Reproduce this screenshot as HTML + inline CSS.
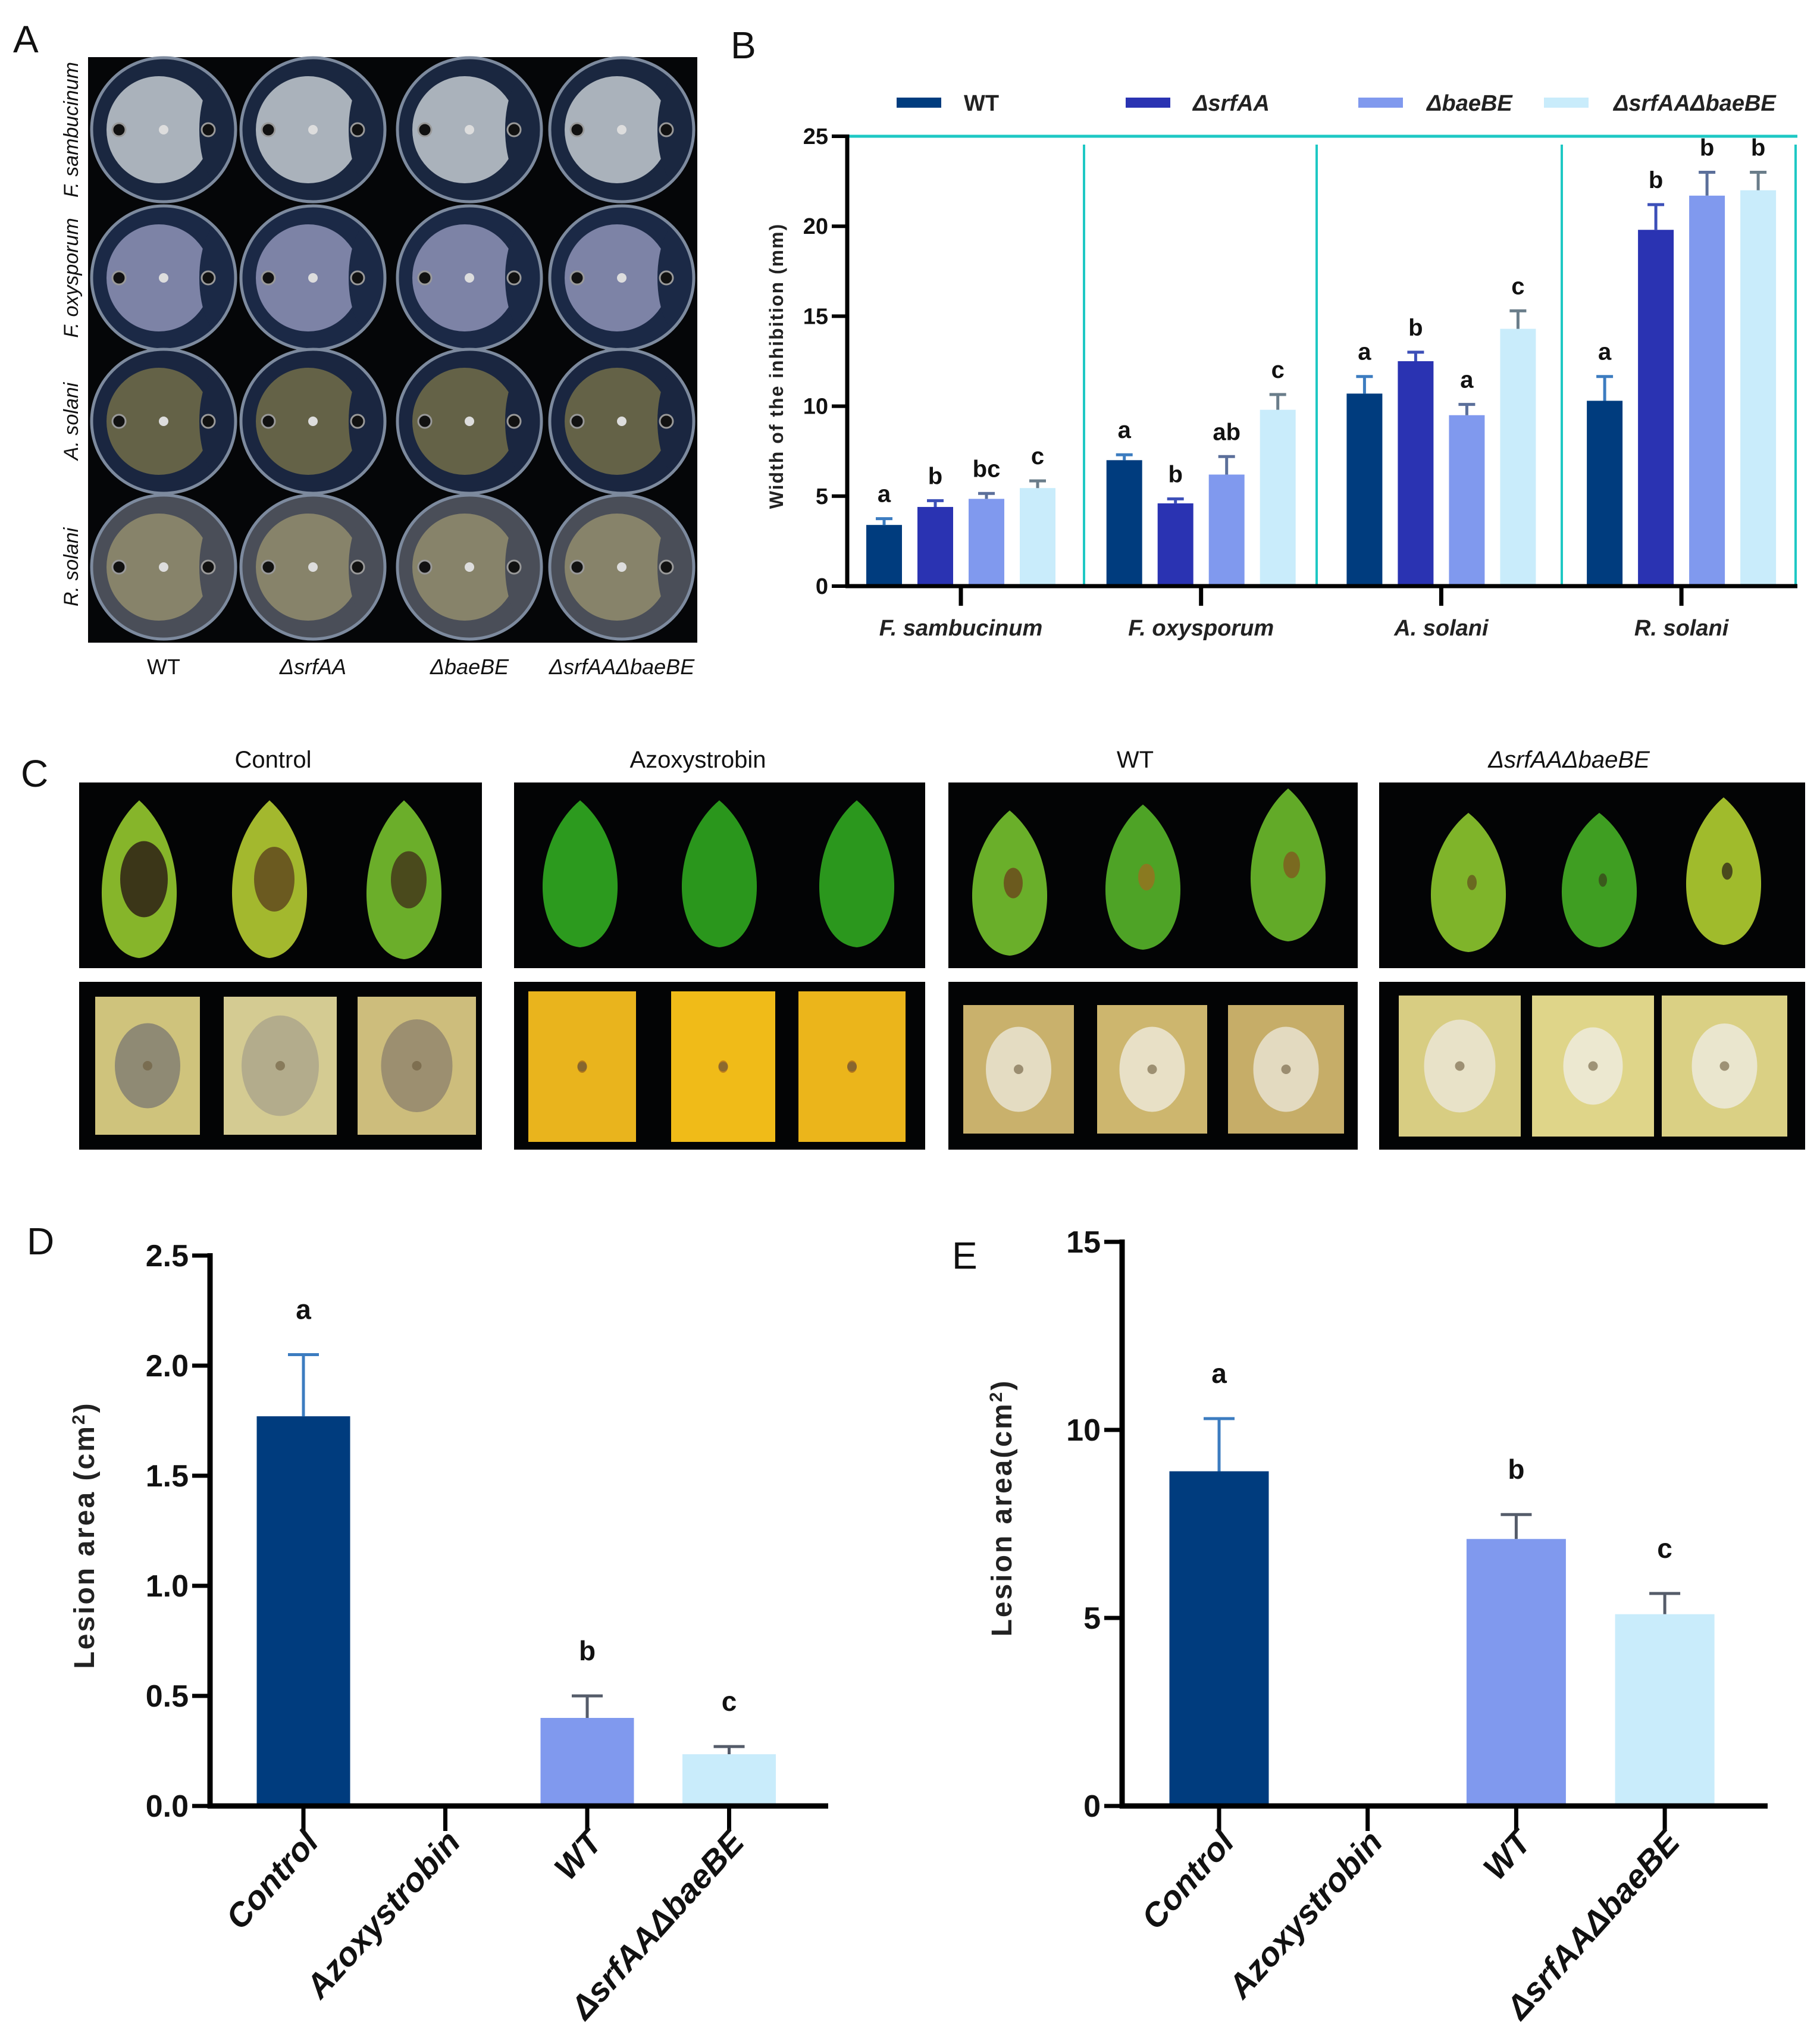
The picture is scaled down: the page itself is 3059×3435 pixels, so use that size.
<!DOCTYPE html>
<html><head><meta charset="utf-8"><title>Figure</title>
<style>html,body{margin:0;padding:0;background:#fff}svg{display:block}text{font-family:"Liberation Sans",sans-serif}</style>
</head><body>
<svg id="fig" xmlns="http://www.w3.org/2000/svg" width="3059" height="3435" viewBox="0 0 3059 3435">
<defs id="defs"></defs>
<rect x="0" y="0" width="3059" height="3435" fill="#fff"/>
<g id="gA"></g>
<g id="gB"></g>
<g id="gC"></g>
<g id="gD"></g>
<g id="gE"></g>
</svg>
<script>
// ---------- Panel B data ----------
const bCategories=["F. sambucinum","F. oxysporum","A. solani","R. solani"];
const bSeriesNames=["WT","ΔsrfAA","ΔbaeBE","ΔsrfAAΔbaeBE"];
const bWT=[3.4,7.0,10.7,10.3];
const bSrfAA=[4.4,4.6,12.5,19.8];
const bBaeBE=[4.85,6.2,9.5,21.7];
const bDouble=[5.45,9.8,14.3,22.0];
const bErrWT=[0.35,0.3,0.95,1.35];
const bErrSrfAA=[0.35,0.25,0.5,1.4];
const bErrBaeBE=[0.3,1.0,0.6,1.3];
const bErrDouble=[0.4,0.85,1.0,1.0];
const bLetWT=["a","a","a","a"];
const bLetSrfAA=["b","b","b","b"];
const bLetBaeBE=["bc","ab","a","b"];
const bLetDouble=["c","c","c","b"];
const bTicks=[0,5,10,15,20,25];
// ---------- Panel D data ----------
const dCategories=["Control","Azoxystrobin","WT","ΔsrfAAΔbaeBE"];
const dValues=[1.77,0,0.40,0.235];
const dErrors=[0.28,0,0.10,0.035];
const dLetters=["a","","b","c"];
const dTicks=["0.0","0.5","1.0","1.5","2.0","2.5"];
// ---------- Panel E data ----------
const eCategories=["Control","Azoxystrobin","WT","ΔsrfAAΔbaeBE"];
const eValues=[8.9,0,7.1,5.1];
const eErrors=[1.4,0,0.65,0.55];
const eLetters=["a","","b","c"];
const eTicks=[0,5,10,15];

const NS="http://www.w3.org/2000/svg";
function mk(parent,tag,attrs,txt){const e=document.createElementNS(NS,tag);for(const k in attrs)e.setAttribute(k,attrs[k]);if(txt!==undefined)e.textContent=txt;parent.appendChild(e);return e;}
const colors=["#003c7e","#2a33b2","#8099ee","#c9ecfb"];
const errColors=["#3c7cc0","#3c4fb8","#5b6f9a","#6a7d8a"];

const fig=document.getElementById('fig');
const defs=document.getElementById('defs');
[["A",22,88],["B",1228,98],["C",35,1322],["D",45,2108],["E",1600,2132]].forEach(p=>{
  const t=mk(fig,'text',{x:p[1],y:p[2],'font-size':64,fill:'#111'},p[0]);
  
  
});

// ---------- Panel A ----------
(function(){
  const g=document.getElementById('gA');
  const bg=mk(g,'rect',{x:148,y:96,width:1024,height:984,fill:'#050608'});
  
  
  const cols=[275,526,789,1045], rows=[218,467,708,953];
  const plateBg=['#1a2740','#1b2946','#1a2640','#4a4e58'];
  const colony=['#aab2bb','#7d83a6','#646247','#87836a'];
  const rowNames=['F. sambucinum','F. oxysporum','A. solani','R. solani'];
  const colNames=['WT','ΔsrfAA','ΔbaeBE','ΔsrfAAΔbaeBE'];
  rows.forEach((cy,r)=>{
    cols.forEach((cx,c)=>{
      const id='pc'+r+'_'+c;
      const cp=mk(defs,'clipPath',{id:id});
      mk(cp,'circle',{cx:cx,cy:cy,r:118});
      const pg=mk(g,'g',{});
      
      
      mk(pg,'circle',{cx:cx,cy:cy,r:121,fill:plateBg[r],stroke:'#7d8a9e','stroke-width':5});
      const inner=mk(pg,'g',{'clip-path':'url(#'+id+')'});
      mk(inner,'ellipse',{cx:cx-8,cy:cy,rx:88,ry:90,fill:colony[r]});
      mk(inner,'ellipse',{cx:cx+105,cy:cy,rx:45,ry:100,fill:plateBg[r]});
      mk(pg,'circle',{cx:cx-75,cy:cy,r:11,fill:'#111',stroke:'#999','stroke-width':3});
      mk(pg,'circle',{cx:cx+75,cy:cy,r:11,fill:'#111',stroke:'#999','stroke-width':3});
      mk(pg,'circle',{cx:cx,cy:cy,r:8,fill:'#ddd'});
    });
    const t=mk(g,'text',{x:0,y:0,'font-size':34,'font-style':'italic','text-anchor':'middle',fill:'#111',transform:'translate(131,'+cy+') rotate(-90)'},rowNames[r]);
    
    
  });
  cols.forEach((cx,c)=>{
    const t=mk(g,'text',{x:cx,y:1133,'font-size':36,'font-style':c?'italic':'normal','text-anchor':'middle',fill:'#111'},colNames[c]);
    
    
  });
})();

// ---------- Panel B ----------
(function(){
  const g=document.getElementById('gB');
  const y0=985, ppu=30.24, axX=1424, right=3021;
  const yB=v=>y0-v*ppu;
  const xB=(c,s)=>1615+c*403.7+(s-1.5)*86;
  const series=[bWT,bSrfAA,bBaeBE,bDouble];
  const errs=[bErrWT,bErrSrfAA,bErrBaeBE,bErrDouble];
  const lets=[bLetWT,bLetSrfAA,bLetBaeBE,bLetDouble];
  const top=mk(g,'line',{x1:axX,y1:yB(25),x2:right,y2:yB(25),stroke:'#1ec8c4','stroke-width':5});
  
  
  [1822,2213,2625,3018].forEach((x,i)=>{
    const l=mk(g,'line',{x1:x,y1:yB(25)+14,x2:x,y2:y0,stroke:'#1ec8c4','stroke-width':4});
    
    
  });
  series.forEach((arr,s)=>{
    arr.forEach((v,c)=>{
      const x=xB(c,s);
      const r=mk(g,'rect',{x:x-30,y:yB(v),width:60,height:y0-yB(v),fill:colors[s]});
      
      
      const e=errs[s][c];
      const el=mk(g,'path',{d:'M'+x+' '+yB(v)+'V'+yB(v+e)+'M'+(x-14)+' '+yB(v+e)+'H'+(x+14),stroke:errColors[s],'stroke-width':5,fill:'none'});
      
      
      const t=mk(g,'text',{x:x,y:yB(v+e)-28,'font-size':40,'font-weight':'bold','text-anchor':'middle',fill:'#111'},lets[s][c]);
      
      
    });
  });
  const ya=mk(g,'line',{x1:axX,y1:yB(25)-3,x2:axX,y2:y0+3,stroke:'#000','stroke-width':7});
  
  
  const xa=mk(g,'line',{x1:axX-3,y1:y0,x2:right,y2:y0,stroke:'#000','stroke-width':7});
  
  
  bTicks.forEach(v=>{
    mk(g,'line',{x1:axX-26,y1:yB(v),x2:axX,y2:yB(v),stroke:'#000','stroke-width':6});
    const t=mk(g,'text',{x:axX-32,y:yB(v)+13,'font-size':38,'font-weight':'bold','text-anchor':'end',fill:'#111'},String(v));
    
    
  });
  bCategories.forEach((c,i)=>{
    const x=1615+i*403.7;
    mk(g,'line',{x1:x,y1:y0,x2:x,y2:y0+33,stroke:'#000','stroke-width':7});
    const t=mk(g,'text',{x:x,y:1068,'font-size':38,'font-weight':'bold','font-style':'italic','text-anchor':'middle',fill:'#222'},c);
    
    
  });
  const yt=mk(g,'text',{x:0,y:0,'font-size':32,'font-weight':'bold','text-anchor':'middle','letter-spacing':2,fill:'#222',transform:'translate(1316,615) rotate(-90)'},'Width of the inhibition  (mm)');
  
  
  const sw=[1507,1892,2283,2595], lx=[1620,2005,2398,2712];
  bSeriesNames.forEach((n,i)=>{
    const r=mk(g,'rect',{x:sw[i],y:164,width:75,height:17,fill:colors[i]});
    
    
    const t=mk(g,'text',{x:lx[i],y:186,'font-size':38,'font-weight':'bold','font-style':i?'italic':'normal',fill:'#222'},n);
    
    
  });
})();

// ---------- Panel C ----------
(function(){
  const g=document.getElementById('gC');
  const heads=[["Control",459,false],["Azoxystrobin",1173,false],["WT",1908,false],["ΔsrfAAΔbaeBE",2637,true]];
  heads.forEach((h,i)=>{
    const t=mk(g,'text',{x:h[1],y:1290,'font-size':40,'font-style':h[2]?'italic':'normal','text-anchor':'middle',fill:'#111'},h[0]);
    
    
  });
  const boxes=[[133,810],[864,1555],[1594,2282],[2318,3034]];
  boxes.forEach((b,i)=>{
    const r1=mk(g,'rect',{x:b[0],y:1315,width:b[1]-b[0],height:312,fill:'#030405'});
    
    
    const r2=mk(g,'rect',{x:b[0],y:1650,width:b[1]-b[0],height:282,fill:'#030405'});
    
    
  });
  const leaves=[
    [234,1345,1610,'#86b52a','#3b3618',40],[453,1345,1610,'#a3b82e','#6b5a20',34],[679,1345,1612,'#6bae2a','#4a4a1c',30],
    [975,1345,1592,'#2c9a1e',null,0],[1209,1345,1592,'#2a961c',null,0],[1440,1345,1592,'#2b971d',null,0],
    [1697,1362,1606,'#6aaf2a','#6b5a1e',16],[1921,1352,1596,'#4ea326','#8a7a20',14],[2165,1325,1582,'#62aa28','#7a6a20',14],
    [2468,1366,1600,'#7fb42a','#6a6a20',8],[2688,1366,1592,'#3f9e22','#3a5a1c',7],[2897,1340,1588,'#a0bb2c','#4a4a1c',9]];
  leaves.forEach((l,i)=>{
    const cx=l[0],t=l[1],b=l[2],w=80,h=b-t;
    const p=mk(g,'path',{d:'M'+cx+' '+t+'C'+(cx+w*1.1)+' '+(t+h*0.3)+','+(cx+w*1.0)+' '+(b-h*0.03)+','+cx+' '+b+'C'+(cx-w*1.0)+' '+(b-h*0.03)+','+(cx-w*1.1)+' '+(t+h*0.3)+','+cx+' '+t+'Z',fill:l[3]});
    
    
    if(l[4]){mk(g,'ellipse',{cx:cx+(i<3?8:6),cy:t+h*0.5,rx:l[5],ry:l[5]*1.6,fill:l[4]});}
  });
  const tubers=[
    [160,336,1675,1907,'#cfc37c','#8f8a74',55],[376,566,1675,1907,'#d4cb92','#b3ac8c',65],[601,800,1675,1907,'#cdbd7c','#9c8f70',60],
    [888,1069,1666,1919,'#e9b41d','#b0781c',8],[1128,1303,1666,1919,'#f0bb18','#c0801c',8],[1342,1522,1666,1919,'#ebb51b','#b5781c',8],
    [1619,1805,1689,1905,'#c9b16c','#e4dcc2',55],[1844,2029,1689,1905,'#cdb66e','#e8e0c6',55],[2064,2259,1689,1905,'#c6ad68','#e3dac0',55],
    [2351,2556,1673,1910,'#d8cd82','#e8e2c8',60],[2575,2780,1673,1910,'#dfd589','#ece8d0',50],[2793,3004,1673,1910,'#dad084','#eae6ce',55]];
  tubers.forEach((t,i)=>{
    const r=mk(g,'rect',{x:t[0],y:t[2],width:t[1]-t[0],height:t[3]-t[2],fill:t[4]});
    
    
    const cx=(t[0]+t[1])/2, cy=(t[2]+t[3])/2;
    mk(g,'ellipse',{cx:cx,cy:cy,rx:t[6],ry:t[6]*1.3,fill:t[5]});
    mk(g,'circle',{cx:cx,cy:cy,r:8,fill:'#6a5a3a','fill-opacity':0.6});
  });
})();

// ---------- Bar chart helper for D and E ----------
function lesionChart(g,cats,vals,errs,letters,ticks,tickVals,ppu,axX,right,x0,dx,barW,title,titleX,titleY,barCols){
  const y0=3035;
  const yS=v=>y0-v*ppu;
  const xS=i=>x0+i*dx;
  vals.forEach((v,i)=>{
    if(v>0){
      const r=mk(g,'rect',{x:xS(i)-barW/2,y:yS(v),width:barW,height:y0-yS(v),fill:barCols[i]});
      
      
      const e=errs[i];
      const el=mk(g,'path',{d:'M'+xS(i)+' '+yS(v)+'V'+yS(v+e)+'M'+(xS(i)-26)+' '+yS(v+e)+'H'+(xS(i)+26),stroke:i===0?'#3c7cc0':'#555c6a','stroke-width':5,fill:'none'});
      
      
    }
    if(letters[i]){
      const t=mk(g,'text',{x:xS(i),y:yS(vals[i]+errs[i])-60,'font-size':46,'font-weight':'bold','text-anchor':'middle',fill:'#111'},letters[i]);
      
      
    }
  });
  const topV=tickVals[tickVals.length-1];
  const ya=mk(g,'line',{x1:axX,y1:yS(topV)-4,x2:axX,y2:y0+4,stroke:'#000','stroke-width':9});
  
  
  const xa=mk(g,'line',{x1:axX-4,y1:y0,x2:right,y2:y0,stroke:'#000','stroke-width':9});
  
  
  ticks.forEach((lab,k)=>{
    const v=tickVals[k];
    mk(g,'line',{x1:axX-30,y1:yS(v),x2:axX,y2:yS(v),stroke:'#000','stroke-width':7});
    const t=mk(g,'text',{x:axX-36,y:yS(v)+18,'font-size':52,'font-weight':'bold','text-anchor':'end',fill:'#111'},lab);
    
    
  });
  cats.forEach((c,i)=>{
    mk(g,'line',{x1:xS(i),y1:y0,x2:xS(i),y2:y0+42,stroke:'#000','stroke-width':7});
    const t=mk(g,'text',{x:0,y:0,'font-size':56,'font-weight':'bold','font-style':'italic','text-anchor':'end',fill:'#111',transform:'translate('+(xS(i)+28)+',3098) rotate(-48)'},c);
    
    
  });
  const yt=mk(g,'text',{x:0,y:0,'font-size':48,'font-weight':'bold','text-anchor':'middle','letter-spacing':3,fill:'#222',transform:'translate('+titleX+','+titleY+') rotate(-90)'});
  
  
  mk(yt,'tspan',{},title);
  mk(yt,'tspan',{'baseline-shift':'super','font-size':30},'2');
  mk(yt,'tspan',{},')');
}
const dTickVals=dTicks.map(Number);
lesionChart(document.getElementById('gD'),dCategories,dValues,dErrors,dLetters,dTicks,dTickVals,370,353,1392,510,238.5,157,'Lesion area (cm',158,2580,["#003c7e","#003c7e","#8099ee","#c9ecfb"]);
lesionChart(document.getElementById('gE'),eCategories,eValues,eErrors,eLetters,eTicks.map(String),eTicks,63.2,1886,2971,2049,249.7,167,'Lesion area(cm',1700,2534,["#003c7e","#003c7e","#8099ee","#c9ecfb"]);
</script>
</body></html>
